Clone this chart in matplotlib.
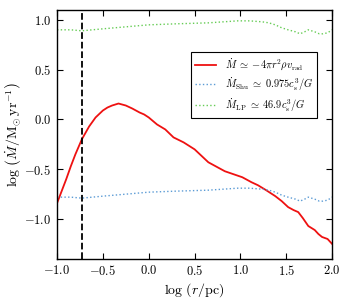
import matplotlib
matplotlib.use('Agg')
import matplotlib.pyplot as plt
from matplotlib.ticker import FuncFormatter, MultipleLocator

plt.rcParams['mathtext.fontset'] = 'cm'
plt.rcParams['font.family'] = 'serif'

# log(r/pc) and log(Mdot)
r_rad = [-1.0, -0.95, -0.9, -0.85, -0.8, -0.73, -0.65, -0.58, -0.5, -0.45, -0.4,
         -0.33, -0.25, -0.18, -0.1, -0.05, 0.0, 0.09, 0.18, 0.27, 0.38, 0.5,
         0.65, 0.83, 1.02, 1.12, 1.19, 1.28, 1.38, 1.45, 1.52, 1.58, 1.63,
         1.68, 1.74, 1.81, 1.85, 1.89, 1.95, 2.0]
mdot_rad = [-0.84, -0.72, -0.6, -0.47, -0.35, -0.2, -0.07, 0.02, 0.09, 0.12, 0.14,
            0.16, 0.14, 0.11, 0.07, 0.05, 0.02, -0.05, -0.1, -0.18, -0.23, -0.3,
            -0.43, -0.52, -0.58, -0.63, -0.66, -0.71, -0.77, -0.82, -0.88, -0.91, -0.93,
            -0.99, -1.07, -1.11, -1.15, -1.18, -1.2, -1.25]

r_cs = [-1.0, -0.85, -0.73, -0.5, -0.25, 0.0, 0.29, 0.65, 0.97, 1.1, 1.24, 1.31,
        1.38, 1.45, 1.52, 1.6, 1.65, 1.7, 1.74, 1.81, 1.86, 1.9, 1.95, 2.0]
mdot_shu = [-0.78, -0.78, -0.79, -0.77, -0.75, -0.73, -0.72, -0.71, -0.69, -0.69, -0.7, -0.71,
            -0.73, -0.76, -0.78, -0.8, -0.82, -0.8, -0.78, -0.8, -0.82, -0.82, -0.81, -0.78]
mdot_lp = [0.9, 0.9, 0.89, 0.91, 0.93, 0.95, 0.96, 0.97, 0.99, 0.99, 0.98, 0.97,
           0.95, 0.92, 0.9, 0.88, 0.86, 0.88, 0.9, 0.88, 0.86, 0.86, 0.87, 0.9]

r_dash = -0.73

fig, ax = plt.subplots(figsize=(3.5, 3.0), dpi=100)
fig.subplots_adjust(left=0.163, right=0.949, top=0.967, bottom=0.137)

ax.plot(r_rad, mdot_rad, color='#ee1111', lw=1.3,
        label=r'$\dot{M}\;\simeq\;{-}4\pi r^2\rho v_{\rm rad}$')
ax.plot(r_cs, mdot_shu, color='#5b9bd5', lw=1.0, ls=':',
        label=r'$\dot{M}_{\rm Shu}\;\simeq\;0.975c_{\rm s}^3/G$')
ax.plot(r_cs, mdot_lp, color='#66cc55', lw=1.0, ls=':',
        label=r'$\dot{M}_{\rm LP}\;\simeq\;46.9c_{\rm s}^3/G$')
ax.axvline(r_dash, color='k', ls='--', lw=1.3)

ax.set_xlim(-1.0, 2.0)
ax.set_ylim(-1.4, 1.1)
ax.xaxis.set_major_locator(MultipleLocator(0.5))
ax.yaxis.set_major_locator(MultipleLocator(0.5))
fmt = FuncFormatter(lambda v, p: r'$%.1f$' % v)
ax.xaxis.set_major_formatter(fmt)
ax.yaxis.set_major_formatter(fmt)
ax.tick_params(direction='in', top=True, right=True, labelsize=9, length=4, pad=4)
for s in ax.spines.values():
    s.set_linewidth(1.0)

ax.set_xlabel(r'$\log\,(r/\mathrm{pc})$', fontsize=10, labelpad=2)
ax.set_ylabel(r'$\log\,\left(\dot{M}/\mathrm{M}_{\odot}\,\mathrm{yr}^{-1}\right)$',
              fontsize=10, labelpad=1)

leg = ax.legend(loc='upper right', bbox_to_anchor=(0.965, 0.85), fontsize=7.5,
                fancybox=False, framealpha=1, edgecolor='k', handlelength=2.0,
                labelspacing=0.3, borderpad=0.4)
leg.get_frame().set_linewidth(0.8)

fig.savefig('out.png', dpi=100)
